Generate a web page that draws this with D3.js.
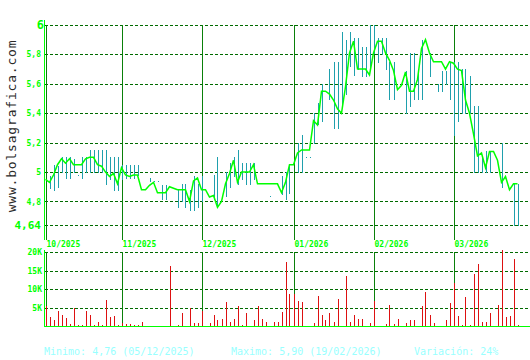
<!DOCTYPE html>
<html>
<head>
<meta charset="utf-8">
<script src="https://cdn.jsdelivr.net/npm/d3@7"></script>
<style>
  body { margin: 0; background: #fff; }
  svg { display: block; }
</style>
</head>
<body>
<svg id="chart" width="530" height="360"></svg>
<script>
// daily closes, one per trading day (Oct 2025 - Mar 2026)
const closes = [
  4.95, 4.93, 4.98, 5.05, 5.09, 5.06, 5.09, 5.05, 5.05, 5.05, 5.09, 5.10, 5.10, 5.05, 5.04, 5.00, 4.97, 4.99, 4.92, 5.03,
  4.98, 4.97, 4.98, 4.98, 4.88, 4.88, 4.91, 4.93, 4.86, 4.86, 4.86, 4.90, 4.89, 4.88, 4.88, 4.88, 4.80, 4.94, 4.96,
  4.88, 4.88, 4.83, 4.84, 4.76, 4.80, 4.92, 4.99, 5.08, 4.93, 5.00, 5.00, 5.00, 5.05, 4.92, 4.92, 4.92, 4.92, 4.92, 4.92, 4.86, 4.93, 5.05,
  5.05, 5.13, 5.15, 5.15, 5.15, 5.35, 5.32, 5.55, 5.55, 5.53, 5.49, 5.43, 5.40, 5.58, 5.81, 5.89, 5.70, 5.70, 5.70, 5.66,
  5.81, 5.89, 5.89, 5.81, 5.76, 5.69, 5.56, 5.59, 5.68, 5.55, 5.55, 5.63, 5.84, 5.90, 5.81, 5.75, 5.75, 5.75, 5.70, 5.75,
  5.74, 5.70, 5.69, 5.49, 5.40, 5.26, 5.11, 5.13, 5.03, 5.14, 5.14, 5.08, 4.93, 4.97, 4.88, 4.92, 4.92
];
// daily high / low (null = no range drawn)
const highs = [
  null, 4.97, 5.05, 5.04, 5.10, 5.10, 5.10, 5.09, 4.98, 5.10, 5.10, 5.15, 5.15, 5.15, 5.15, 5.15, 5.10, 5.10, 5.10, 5.05,
  5.05, 5.05, 5.05, 5.05, null, null, 4.96, 4.94, 4.94, 4.91, 4.91, null, null, 4.88, 4.92, 4.92, 4.88, 4.97, 4.92,
  4.97, null, null, 4.98, 5.10, null, 5.00, 5.06, 5.10, 5.15, 5.06, 5.06, 5.06, 5.06, null, null, null, 4.84, null, null, 4.97, 5.00, 5.05,
  null, 5.20, 5.25, 5.10, 5.10, 5.40, 5.47, 5.60, null, 5.70, 5.75, 5.75, 5.95, 5.90, 5.95, 5.91, 5.91, 5.85, 5.85, 6.00,
  6.00, 5.91, 5.91, 5.91, 5.75, 5.75, null, null, 5.69, 5.81, 5.81, 5.69, 5.90, null, 5.81, null, 5.60, 5.69, 5.69, 5.75,
  5.75, 5.75, 5.70, 5.70, 5.65, 5.45, 5.45, 5.10, 5.14, 5.14, null, null, 5.20, null, null, 4.92, 4.92
];
const lows = [
  null, 4.89, 4.88, 4.90, 5.00, 4.96, 4.96, 5.00, 4.98, 4.96, 5.00, 5.00, 5.00, 5.00, 5.00, 4.92, 4.95, 4.88, 4.88, 4.95,
  4.96, 4.96, 4.96, 4.98, null, null, 4.94, 4.94, 4.94, 4.82, 4.82, null, null, 4.76, 4.80, 4.76, 4.74, 4.74, 4.76,
  4.80, null, null, 4.82, 4.76, null, 4.84, 4.90, 4.97, 4.92, 4.95, 4.92, 4.92, 4.95, null, null, null, 4.84, null, null, 4.85, 4.82, 4.86,
  null, 5.00, 5.00, 5.10, 5.10, 5.20, 5.33, 5.35, null, 5.50, 5.30, 5.30, 5.45, 5.53, 5.72, 5.66, 5.70, 5.65, 5.65, 5.70,
  5.81, 5.75, 5.80, 5.70, 5.50, 5.50, null, null, 5.40, 5.45, 5.50, 5.50, 5.50, null, 5.65, null, 5.55, 5.55, 5.60, 5.50,
  5.25, 5.35, 5.40, 5.40, 5.40, 5.00, 5.00, 5.00, 5.00, 5.00, null, null, 4.90, null, null, 4.64, 4.64
];
// daily volume, thousands of shares
const volumes = [
  5.4, 2.4, 1.5, 4.0, 3.1, 2.1, 0.5, 4.8, 0.2, 0.3, 4.0, 3.1, 0.2, 1.2, 0.2, 7.0, 2.4, 2.6, 0.2, 0.9,
  0.5, 0.5, 0.2, 0.2, 1.2, 0.1, 0.1, 0.1, 0.1, 0.1, 0.1, 16.3, 0.1, 0.4, 3.5, 0.1, 4.9, 0.9, 0.9,
  4.0, 0.1, 0.9, 2.9, 1.5, 1.8, 6.5, 1.2, 1.8, 5.4, 0.4, 3.4, 0.1, 1.5, 5.4, 1.8, 1.2, 0.1, 1.2, 1.2, 3.7, 17.3, 8.7,
  8.7, 6.8, 6.5, 0.1, 0.1, 0.9, 8.1, 2.9, 1.5, 3.4, 1.2, 7.3, 0.1, 13.4, 1.2, 3.1, 1.8, 1.8, 0.1, 0.9,
  6.8, 0.1, 0.1, 0.6, 5.6, 0.6, 1.8, 0.1, 0.9, 1.5, 1.5, 0.1, 5.4, 9.3, 2.9, 0.9, 0.1, 0.1, 1.5, 6.2,
  11.5, 2.6, 0.4, 7.9, 0.4, 14.0, 16.8, 1.2, 1.2, 3.4, 0.1, 5.6, 20.6, 2.3, 2.6, 18.1, 0.2
];
const monthLabels = ["10/2025", "11/2025", "12/2025", "01/2026", "02/2026", "03/2026"];
const monthStart = [0, 19, 39, 62, 82, 102];
const priceTicks = [6, 5.8, 5.6, 5.4, 5.2, 5, 4.8, 4.64];
const volumeTicks = [5000, 10000, 15000, 20000];

const svg = d3.select("#chart");
svg.append("rect").attr("width", 530).attr("height", 360).attr("fill", "#fff");

const x = d3.scaleLinear().domain([0, closes.length - 1]).range([45.5, 517.5]);
const y = d3.scaleLinear().domain([4.64, 6]).range([225, 25]);
const yv = d3.scaleLinear().domain([0, 20000]).range([326, 252]);

const fmtPrice = (d) => String(d).replace(".", ",");
const fmtVol = (d) => d / 1000 + "K";
const px = (v) => Math.round(v) + 0.5;

const bright = "#00ff00";
const grid = "#006a00";
const month = "#0a800a";

// watermark
svg.append("text")
  .attr("transform", "translate(16,126) rotate(-90)")
  .attr("text-anchor", "middle")
  .attr("font-family", "DejaVu Sans Mono")
  .attr("font-size", 13)
  .attr("letter-spacing", 0.8)
  .attr("fill", "#2a2a2a")
  .text("www.bolsagrafica.com");

// ---- price panel ----
const price = svg.append("g");

price.selectAll("line.grid")
  .data(priceTicks)
  .join("line")
  .attr("class", "grid")
  .attr("x1", 45).attr("x2", 530)
  .attr("y1", (d) => px(y(d))).attr("y2", (d) => px(y(d)))
  .attr("stroke", grid)
  .attr("stroke-width", 1.2)
  .attr("stroke-dasharray", "3,2")
  .attr("shape-rendering", "crispEdges");

price.selectAll("line.month")
  .data(monthStart)
  .join("line")
  .attr("class", "month")
  .attr("x1", (d) => px(x(d))).attr("x2", (d) => px(x(d)))
  .attr("y1", 25).attr("y2", 240)
  .attr("stroke", month)
  .attr("stroke-width", 1)
  .attr("shape-rendering", "crispEdges");

// y labels
const yAxis = d3.axisLeft(y).tickValues(priceTicks).tickSize(0).tickPadding(0).tickFormat(fmtPrice);
const ya = price.append("g").attr("transform", "translate(41,0)").call(yAxis);
ya.select(".domain").remove();
ya.selectAll("text")
  .attr("font-family", "DejaVu Sans Mono")
  .attr("font-weight", "bold")
  .attr("font-size", (d) => (d === 6 ? 12 : d === 4.64 ? 11 : 8))
  .attr("dx", (d) => (d === 6 ? 3 : 0))
  .attr("fill", bright);

// high-low bars
const hl = d3.range(closes.length).filter((i) => highs[i] != null);
price.selectAll("line.hl")
  .data(hl)
  .join("line")
  .attr("class", "hl")
  .attr("x1", (i) => px(x(i))).attr("x2", (i) => px(x(i)))
  .attr("y1", (i) => Math.round(y(highs[i])))
  .attr("y2", (i) => Math.round(y(lows[i])) + 1)
  .attr("stroke", "#1fa0ad")
  .attr("stroke-width", 1)
  .attr("shape-rendering", "crispEdges");

// close line
price.append("path")
  .datum(closes)
  .attr("d", d3.line().x((d, i) => x(i)).y((d) => y(d)))
  .attr("fill", "none")
  .attr("stroke", bright)
  .attr("stroke-width", 1.5);

// left axis line
price.append("line")
  .attr("x1", 44.5).attr("x2", 44.5).attr("y1", 20).attr("y2", 240)
  .attr("stroke", bright).attr("stroke-width", 1).attr("shape-rendering", "crispEdges");

// month labels
price.selectAll("text.mlabel")
  .data(monthStart)
  .join("text")
  .attr("class", "mlabel")
  .attr("x", (d) => x(d) + 1)
  .attr("y", 247)
  .attr("font-family", "DejaVu Sans Mono")
  .attr("font-weight", "bold")
  .attr("font-size", 8)
  .attr("fill", bright)
  .text((d, i) => monthLabels[i]);

// ---- volume panel ----
const vol = svg.append("g");

vol.selectAll("line.vgrid")
  .data(volumeTicks)
  .join("line")
  .attr("class", "vgrid")
  .attr("x1", 45).attr("x2", 530)
  .attr("y1", (d) => px(yv(d))).attr("y2", (d) => px(yv(d)))
  .attr("stroke", grid)
  .attr("stroke-width", 1.2)
  .attr("stroke-dasharray", "3,2")
  .attr("shape-rendering", "crispEdges");

vol.selectAll("line.vmonth")
  .data(monthStart)
  .join("line")
  .attr("class", "vmonth")
  .attr("x1", (d) => px(x(d))).attr("x2", (d) => px(x(d)))
  .attr("y1", 252).attr("y2", 326)
  .attr("stroke", month)
  .attr("stroke-width", 1)
  .attr("shape-rendering", "crispEdges");

vol.selectAll("line.vbar")
  .data(volumes)
  .join("line")
  .attr("class", "vbar")
  .attr("x1", (d, i) => px(x(i))).attr("x2", (d, i) => px(x(i)))
  .attr("y1", (d) => Math.round(yv(d * 1000)))
  .attr("y2", 326)
  .attr("stroke", "#dd1111")
  .attr("stroke-width", 1)
  .attr("shape-rendering", "crispEdges");

const vAxis = d3.axisLeft(yv).tickValues(volumeTicks).tickSize(0).tickPadding(0).tickFormat(fmtVol);
const va = vol.append("g").attr("transform", "translate(42,0)").call(vAxis);
va.select(".domain").remove();
va.selectAll("text")
  .attr("font-family", "DejaVu Sans Mono")
  .attr("font-weight", "bold")
  .attr("font-size", 8)
  .attr("fill", bright);

vol.append("line")
  .attr("x1", 44.5).attr("x2", 44.5).attr("y1", 250).attr("y2", 327)
  .attr("stroke", bright).attr("stroke-width", 1).attr("shape-rendering", "crispEdges");
vol.append("line")
  .attr("x1", 44).attr("x2", 530).attr("y1", 326.5).attr("y2", 326.5)
  .attr("stroke", bright).attr("stroke-width", 1.5).attr("shape-rendering", "crispEdges");

// ---- stats footer ----
const stats = [
  { x: 44, t: "Minimo: 4,76 (05/12/2025)" },
  { x: 231, t: "Maximo: 5,90 (19/02/2026)" },
  { x: 414, t: "Variación: 24%" }
];
svg.selectAll("text.stat")
  .data(stats)
  .join("text")
  .attr("class", "stat")
  .attr("x", (d) => d.x)
  .attr("y", 355)
  .attr("font-family", "DejaVu Sans Mono")
  .attr("font-size", 10)
  .attr("fill", "#99ffff")
  .text((d) => d.t);
</script>
</body>
</html>
